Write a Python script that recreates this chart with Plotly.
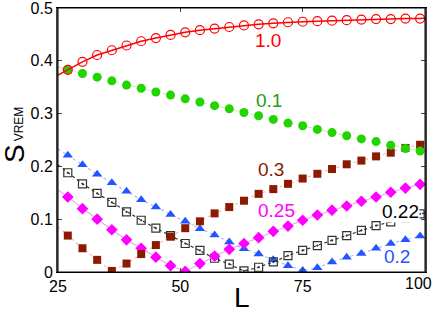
import plotly.graph_objects as go

# Data
L = [27, 30, 33, 36, 39, 42, 45, 48, 51, 54, 57, 60, 63, 66, 69, 72, 75, 78, 81, 84, 87, 90, 93, 96, 99]

s_10 = [0.383, 0.398, 0.411, 0.420, 0.429, 0.437, 0.443, 0.449, 0.454, 0.458, 0.461, 0.464, 0.467,
        0.469, 0.471, 0.473, 0.474, 0.475, 0.476, 0.477, 0.478, 0.479, 0.479, 0.480, 0.480]
s_01 = [0.383, 0.376, 0.369, 0.362, 0.354, 0.348, 0.341, 0.335, 0.328, 0.322, 0.315, 0.309, 0.302,
        0.296, 0.289, 0.282, 0.277, 0.270, 0.264, 0.258, 0.252, 0.247, 0.240, 0.234, 0.229]
s_03 = [0.069, 0.045, 0.023, 0.002, 0.016, 0.034, 0.051, 0.067, 0.083, 0.096, 0.111, 0.123, 0.135,
        0.148, 0.157, 0.167, 0.177, 0.186, 0.195, 0.204, 0.211, 0.219, 0.226, 0.235, 0.241]
s_025 = [0.142, 0.120, 0.100, 0.080, 0.061, 0.045, 0.028, 0.012, 0.001, 0.016, 0.030, 0.043, 0.054,
         0.065, 0.077, 0.087, 0.098, 0.108, 0.117, 0.125, 0.134, 0.142, 0.151, 0.159, 0.166]
s_022 = [0.188, 0.167, 0.149, 0.132, 0.114, 0.098, 0.083, 0.069, 0.054, 0.041, 0.026, 0.015, 0.002,
         0.009, 0.019, 0.031, 0.041, 0.050, 0.060, 0.069, 0.079, 0.088, 0.095, 0.103, 0.110]
s_02 = [0.221, 0.203, 0.185, 0.169, 0.153, 0.137, 0.123, 0.109, 0.096, 0.082, 0.070, 0.057, 0.044,
        0.034, 0.023, 0.012, 0.003, 0.008, 0.019, 0.028, 0.035, 0.045, 0.054, 0.061, 0.068]

# Guide-line end values at L=25 and L=100
L_ends = [25, 100]
end_10 = [0.373, 0.481]
end_01 = [0.389, 0.227]
end_03 = [0.086, 0.244]
end_025 = [0.156, 0.169]
end_022 = [0.203, 0.112]
end_02 = [0.233, 0.070]

labels = ["1.0", "0.1", "0.3", "0.25", "0.22", "0.2"]
label_L = [67.9, 68.1, 68.5, 69.7, 94.9, 94.3]
label_S = [0.438, 0.324, 0.194, 0.116, 0.114, 0.030]

x_ticks = [25, 50, 75, 100]
x_ticktext = ["25", "50", "75", ""]   # "100" drawn separately, right-aligned to the edge
y_ticks = [0, 0.1, 0.2, 0.3, 0.4, 0.5]
y_ticktext = ["0", "0.1", "0.2", "0.3", "0.4", "0.5"]

series = [
    # values, ends, marker color, line color, dash, symbol, size
    (s_02, end_02, "#2255ff", "#9fb4ff", "dot", "triangle-up", 9),
    (s_022, end_022, "#333333", "#222222", "dot", "square-open-dot", 8),
    (s_025, end_025, "#ff00ff", "#e8a6f0", "solid", "diamond", 9),
    (s_03, end_03, "#8b1a00", "#ffb4a4", "dot", "square", 8),
    (s_01, end_01, "#22d400", "#c4f2a8", "dash", "circle", 9),
    (s_10, end_10, "#ff0000", "#ff0000", "solid", "circle-open", 9),
]

fig = go.Figure()
for vals, ends, mc, lc, dash, sym, size in series:
    xs = [L_ends[0]] + L + [L_ends[1]]
    ys = [ends[0]] + vals + [ends[1]]
    fig.add_trace(go.Scatter(x=xs, y=ys, mode="lines",
                             line=dict(color=lc, width=1.5 if lc == "#ff0000" else 1.1, dash=dash),
                             showlegend=False, hoverinfo="skip"))
    fig.add_trace(go.Scatter(x=L, y=vals, mode="markers",
                             marker=dict(symbol=sym, size=size, color=mc,
                                         line=dict(color=mc, width=1.2 if "open" in sym else 0)),
                             showlegend=False))

label_colors = {"1.0": "#ff0000", "0.1": "#2a9a1a", "0.3": "#8b1a00",
                "0.25": "#ff00ff", "0.22": "#000000", "0.2": "#2255ff"}
for t, lx, ly in zip(labels, label_L, label_S):
    fig.add_annotation(x=lx, y=ly, text=t, showarrow=False, xanchor="center", yanchor="middle",
                       font=dict(size=19, color=label_colors[t], family="Liberation Sans"),
                       bgcolor="white" if t == "0.22" else None, borderpad=0)

# Y-axis title: S with subscript VREM
fig.add_annotation(xref="paper", yref="paper", x=-0.119, y=0.448, text="S", textangle=-90,
                   xanchor="center", yanchor="middle",
                   showarrow=False, font=dict(size=28, color="black", family="Liberation Sans"))
fig.add_annotation(xref="paper", yref="paper", x=-0.107, y=0.562, text="VREM", textangle=-90,
                   xanchor="center", yanchor="middle",
                   showarrow=False, font=dict(size=12, color="black", family="Liberation Sans"))
# X-axis title
fig.add_annotation(xref="paper", yref="paper", x=0.5, y=-0.095, text="L",
                   xanchor="center", yanchor="middle",
                   showarrow=False, font=dict(size=28, color="black", family="Liberation Sans"))
# Last x tick label, kept inside the page
fig.add_annotation(xref="paper", yref="paper", x=1.0245, y=-0.005, text="100",
                   xanchor="right", yanchor="top", showarrow=False,
                   font=dict(size=16, color="black", family="Liberation Sans"))

# Frame box
fig.add_shape(type="rect", xref="paper", yref="paper", x0=0, y0=0, x1=1, y1=1,
              line=dict(color="black", width=1), layer="above")

fig.update_layout(
    width=436, height=315,
    margin=dict(l=58, r=11, t=8, b=43),
    paper_bgcolor="white", plot_bgcolor="white",
    font=dict(family="Liberation Sans", size=16, color="black"),
    xaxis=dict(range=[25, 100], tickvals=x_ticks, ticktext=x_ticktext, ticks="inside", ticklen=4,
               showgrid=False, zeroline=False, showline=True, linecolor="black", linewidth=1,
               mirror="ticks", tickfont=dict(size=16), ticklabeloverflow="allow", automargin=False),
    yaxis=dict(range=[0, 0.5], tickvals=y_ticks, ticktext=y_ticktext, ticks="inside", ticklen=4,
               showgrid=False, zeroline=False, showline=True, linecolor="#444444", linewidth=2,
               mirror="ticks", tickfont=dict(size=16), ticklabeloverflow="allow", automargin=False),
)

fig.write_html("out.html", config={"displayModeBar": False},
               post_script="document.body.style.margin='0px';document.body.style.overflow='hidden';")
